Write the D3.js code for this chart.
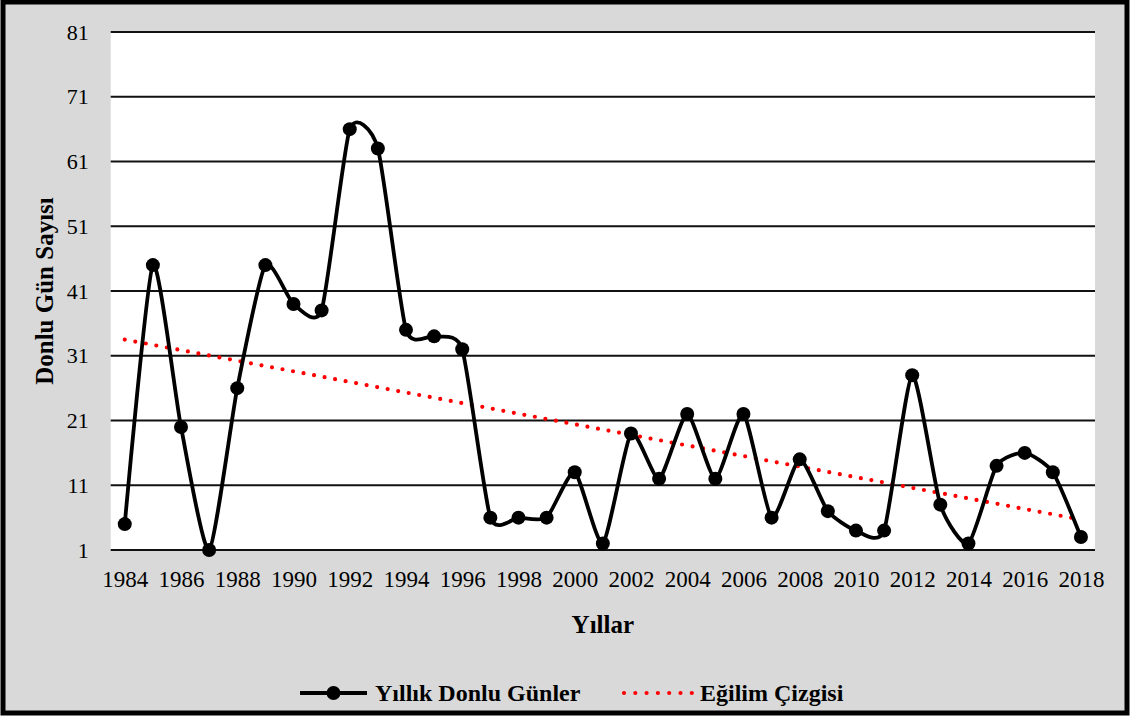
<!DOCTYPE html>
<html lang="tr">
<head>
  <meta charset="UTF-8">
  <title>Yıllık Donlu Günler</title>
  <script src="https://d3js.org/d3.v7.min.js"></script>
  <style>
    body { margin: 0; background: #fff; }
    text { font-family: "Liberation Serif", "Times New Roman", serif; fill: #000; }
  </style>
</head>
<body>
  <div id="chart"></div>
  <script>
    // data
    const years = d3.range(1984, 2019);
    const frostDays = [5, 45, 20, 1, 26, 45, 39, 38, 66, 63,
                       35, 34, 32, 6, 6, 6, 13, 2, 19, 12,
                       22, 12, 22, 6, 15, 7, 4, 4, 28, 8,
                       2, 14, 16, 13, 3];
    const trendYears = [1984, 2018];
    const trendValues = [33.5, 5.7];
    const yTicks = [1, 11, 21, 31, 41, 51, 61, 71, 81];

    const width = 1132, height = 717;
    const plot = { left: 110.7, right: 1095, top: 32, bottom: 550 };

    const svg = d3.select("#chart").append("svg")
      .attr("width", width)
      .attr("height", height);

    // outer frame
    svg.append("rect")
      .attr("x", 3).attr("y", 2)
      .attr("width", 1124).attr("height", 711)
      .attr("fill", "#d9d9d9")
      .attr("stroke", "#000")
      .attr("stroke-width", 5);

    // plot area
    svg.append("rect")
      .attr("x", plot.left).attr("y", plot.top)
      .attr("width", plot.right - plot.left)
      .attr("height", plot.bottom - plot.top)
      .attr("fill", "#fff");

    const x = d3.scalePoint()
      .domain(years)
      .range([plot.left, plot.right])
      .padding(0.5);

    const y = d3.scaleLinear()
      .domain([1, 81])
      .range([plot.bottom, plot.top]);

    // gridlines
    svg.append("g")
      .selectAll("line")
      .data(yTicks)
      .join("line")
      .attr("x1", plot.left).attr("x2", plot.right)
      .attr("y1", d => y(d)).attr("y2", d => y(d))
      .attr("stroke", "#111")
      .attr("stroke-width", 2);

    // y axis labels
    const yAxis = svg.append("g")
      .attr("transform", `translate(${plot.left},0)`)
      .call(d3.axisLeft(y).tickValues(yTicks).tickSize(0).tickPadding(22));
    yAxis.select(".domain").remove();
    yAxis.selectAll("text").attr("font-size", 22);

    // x axis labels
    const xAxis = svg.append("g")
      .attr("transform", `translate(0,${plot.bottom})`)
      .call(d3.axisBottom(x).tickValues(years.filter(d => d % 2 === 0)).tickSize(0).tickPadding(21));
    xAxis.select(".domain").remove();
    xAxis.selectAll("text").attr("font-size", 23);

    // axis titles
    svg.append("text")
      .attr("transform", `translate(53,${(plot.top + plot.bottom) / 2}) rotate(-90)`)
      .attr("text-anchor", "middle")
      .attr("font-size", 25)
      .attr("font-weight", "bold")
      .text("Donlu Gün Sayısı");

    svg.append("text")
      .attr("x", (plot.left + plot.right) / 2)
      .attr("y", 633)
      .attr("text-anchor", "middle")
      .attr("font-size", 25)
      .attr("font-weight", "bold")
      .text("Yıllar");

    // trend line (dotted red)
    const trendLine = d3.line()
      .x(d => x(d[0]))
      .y(d => y(d[1]));
    svg.append("path")
      .datum(trendYears.map((d, i) => [d, trendValues[i]]))
      .attr("d", trendLine)
      .attr("fill", "none")
      .attr("stroke", "#ff0000")
      .attr("stroke-width", 4.2)
      .attr("stroke-linecap", "round")
      .attr("stroke-dasharray", "0,10.7");

    // smoothed series line (excel-like smoothing)
    const line = d3.line()
      .x((d, i) => x(years[i]))
      .y(d => y(d))
      .curve(d3.curveCardinal.tension(0.4));
    svg.append("path")
      .datum(frostDays)
      .attr("d", line)
      .attr("fill", "none")
      .attr("stroke", "#000")
      .attr("stroke-width", 3.8);

    svg.append("g")
      .selectAll("circle")
      .data(frostDays)
      .join("circle")
      .attr("cx", (d, i) => x(years[i]))
      .attr("cy", d => y(d))
      .attr("r", 7)
      .attr("fill", "#000");

    // legend
    const legendY = 693;
    const leg = svg.append("g");
    leg.append("line")
      .attr("x1", 300).attr("x2", 367)
      .attr("y1", legendY).attr("y2", legendY)
      .attr("stroke", "#000").attr("stroke-width", 3.8);
    leg.append("circle")
      .attr("cx", 333.5).attr("cy", legendY).attr("r", 7)
      .attr("fill", "#000");
    leg.append("text")
      .attr("x", 375).attr("y", 701)
      .attr("font-size", 24)
      .attr("font-weight", "bold")
      .text("Yıllık Donlu Günler");

    leg.append("line")
      .attr("x1", 624).attr("x2", 692)
      .attr("y1", legendY).attr("y2", legendY)
      .attr("stroke", "#ff0000").attr("stroke-width", 4.2)
      .attr("stroke-linecap", "round")
      .attr("stroke-dasharray", "0,11.3");
    leg.append("text")
      .attr("x", 700).attr("y", 701)
      .attr("font-size", 24)
      .attr("font-weight", "bold")
      .text("Eğilim Çizgisi");
  </script>
</body>
</html>
